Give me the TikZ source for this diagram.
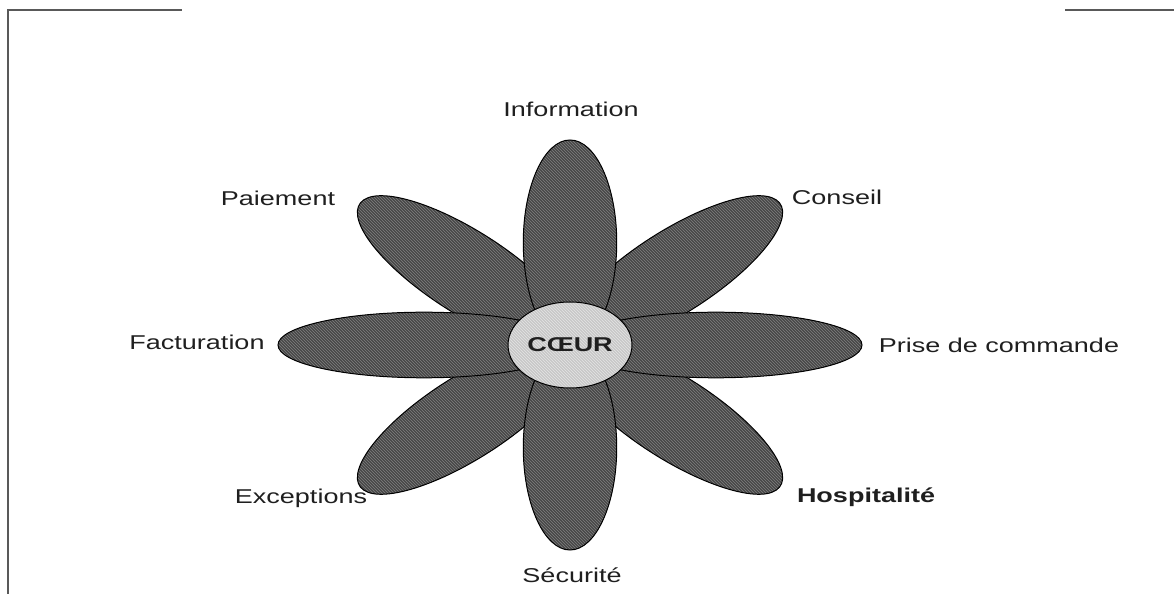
\documentclass[tikz,border=0pt]{standalone}
\usepackage{fontspec}
\usepackage{graphicx}
\setmainfont{Liberation Sans}
\usetikzlibrary{patterns,shapes.geometric}
\begin{document}
\begin{tikzpicture}[x=1pt,y=1pt,
  frame/.style={draw=black!65, line width=1.6pt},
  petal/.style={draw=black, line width=1pt, preaction={fill=black!72},
    pattern=north west lines, pattern color=black!50},
  heart/.style={ellipse, draw=black, line width=1pt, minimum width=124pt,
    minimum height=86pt, inner sep=0pt, preaction={fill=black!22},
    pattern=north west lines, pattern color=black!10,
    font=\fontsize{20}{24}\selectfont\bfseries, text=black!88},
  lbl/.style={anchor=base, inner sep=0pt, xscale=1.35,
    font=\fontsize{20}{24}\selectfont, text=black!88},
  lblbold/.style={lbl, font=\fontsize{20}{24}\selectfont\bfseries}]
\useasboundingbox (0,0) rectangle (1174,594);

% page frame fragments
\draw[frame] (7,584) -- (182,584);
\draw[frame] (8,584) -- (8,0);
\draw[frame] (1065,584) -- (1174,584);

% the eight petals around the heart: diagonal ones first, then the axes
\begin{scope}[shift={(570,249)}, xscale=292, yscale=205]
  \foreach \a in {45,135,-135,-45}
    \path[petal, rotate=\a] (0.5,0) ellipse [x radius=0.5, y radius=0.175];
  \foreach \a in {180,0,-90,90}
    \path[petal, rotate=\a] (0.5,0) ellipse [x radius=0.5, y radius=0.16];
\end{scope}

\node[heart] (coeur) at (570,249) {\scalebox{1.35}[1]{CŒUR}};

% petal labels
\node[lbl] (information) at (571,477) {Information};
\node[lbl] (conseil) at (837,389) {Conseil};
\node[lbl] (commande) at (999,241) {Prise de commande};
\node[lblbold] (hospitalite) at (866,91) {Hospitalité};
\node[lbl] (securite) at (572,12) {Sécurité};
\node[lbl] (exceptions) at (301,90) {Exceptions};
\node[lbl] (facturation) at (197,244) {Facturation};
\node[lbl] (paiement) at (278,388) {Paiement};
\end{tikzpicture}
\end{document}
